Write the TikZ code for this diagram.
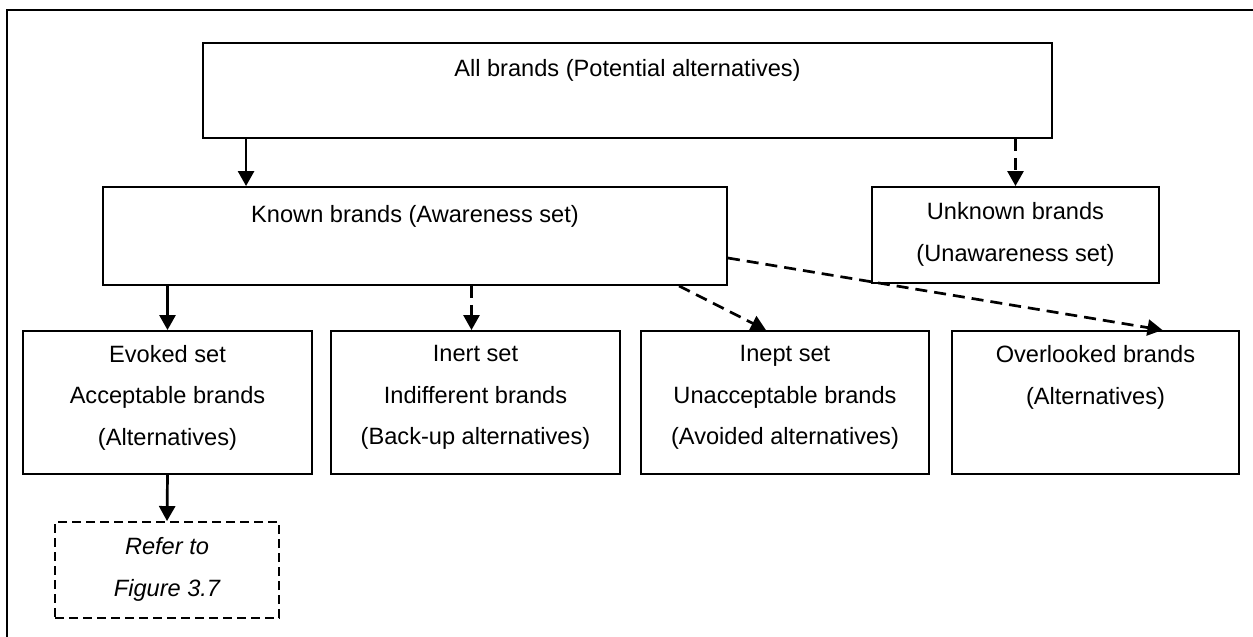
\documentclass[tikz,border=0pt]{standalone}
\usepackage{fontspec}
\setmainfont{Liberation Sans}
\usetikzlibrary{arrows.meta,calc}

\tikzset{
  box/.style={draw, line width=1.9pt, inner sep=0pt, rectangle},
  dbox/.style={box, dash pattern=on 9pt off 5pt},
  txt/.style={align=center, inner sep=0pt, anchor=north,
    font=\fontsize{23.6}{41.5}\selectfont},
  arr/.style={line width=2.7pt, -{Triangle[length=15pt,width=16pt]}},
  darr/.style={arr, dash pattern=on 12pt off 7pt},
}

\begin{document}
\begin{tikzpicture}[x=1pt,y=-1pt]
  \useasboundingbox (0,0) rectangle (1253,637);
  \clip (0,0) rectangle (1253,637);

  % outer frame
  \draw[line width=2.2pt] (7,10) rectangle (1265,650);

  % boxes
  \node[box, minimum width=849pt, minimum height=95pt]  (all)     at (627.5,90.5) {};
  \node[box, minimum width=624pt, minimum height=98pt]  (known)   at (415,236)   {};
  \node[box, minimum width=287pt, minimum height=96pt]  (unknown) at (1015.5,235) {};
  \node[box, minimum width=289pt, minimum height=143pt] (evoked)  at (167.5,402.5) {};
  \node[box, minimum width=289pt, minimum height=143pt] (inert)   at (475.5,402.5) {};
  \node[box, minimum width=288pt, minimum height=143pt] (inept)   at (785,402.5) {};
  \node[box, minimum width=287pt, minimum height=143pt] (over)    at (1095.5,402.5) {};
  \node[dbox, minimum width=224pt, minimum height=96pt] (refer)   at (167,570) {};

  % box texts
  \node[txt] (allT)     at ($(all.north)+(0,17.5)$)     {All brands (Potential alternatives)};
  \node[txt] (knownT)   at ($(known.north)+(0,19.5)$)   {Known brands (Awareness set)};
  \node[txt] (unknownT) at ($(unknown.north)+(0,16.5)$) {Unknown brands\\(Unawareness set)};
  \node[txt] (evokedT)  at ($(evoked.north)+(0,15)$)    {Evoked set\\Acceptable brands\\(Alternatives)};
  \node[txt] (inertT)   at ($(inert.north)+(0,15.5)$)   {Inert set\\Indifferent brands\\(Back-up alternatives)};
  \node[txt] (ineptT)   at ($(inept.north)+(0,15.5)$)   {Inept set\\Unacceptable brands\\(Avoided alternatives)};
  \node[txt] (overT)    at ($(over.north)+(0,15.5)$)    {Overlooked brands\\(Alternatives)};
  \node[txt, font=\fontsize{23.6}{41.5}\selectfont\itshape] (referT) at ($(refer.north)+(0,16.5)$) {Refer to\\Figure 3.7};

  % connectors
  \coordinate (a1) at ($(all.south west)+(44,0)$);
  \draw[arr]  (a1) -- (a1 |- known.north);
  \draw[darr] (unknown.north |- all.south) -- (unknown.north);
  \draw[arr]  (evoked.north |- known.south) -- (evoked.north);
  \coordinate (a2) at ($(inert.north)+(-4,0)$);
  \draw[darr] (a2 |- known.south) -- (a2);
  \draw[darr] ($(known.south west)+(577,0)$) -- ($(inept.north)+(-19,0)$);
  \draw[darr] ($(known.east)+(0,22)$) -- ($(over.north)+(67,0)$);
  \draw[arr]  (evoked.south) -- (refer.north);
\end{tikzpicture}
\end{document}
